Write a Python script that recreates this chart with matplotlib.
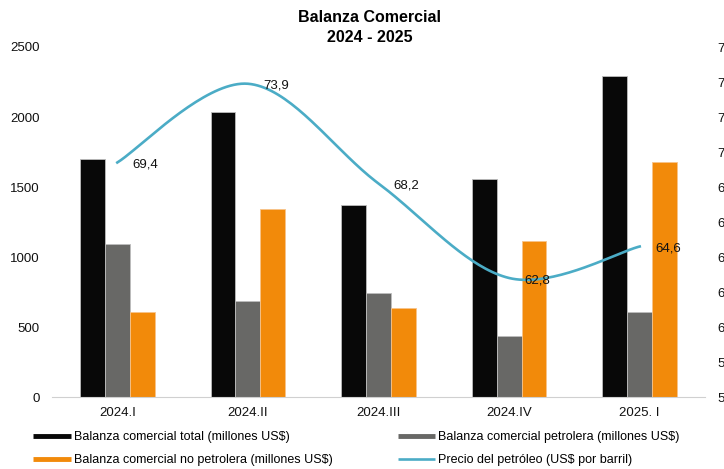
import numpy as np
import matplotlib
matplotlib.use("Agg")
import matplotlib.pyplot as plt
from matplotlib.lines import Line2D

plt.rcParams['font.family'] = ['Liberation Sans', 'DejaVu Sans']

# Datos
trimestres = ['2024.I', '2024.II', '2024.III', '2024.IV', '2025. I']
bc_total = [1702, 2033, 1374, 1557, 2293]
bc_petrolera = [1090, 686, 741, 438, 607]
bc_no_petrolera = [609, 1343, 634, 1114, 1676]
precio_petroleo = [69.4, 73.9, 68.2, 62.8, 64.6]
precio_labels = ['69,4', '73,9', '68,2', '62,8', '64,6']

c_total = '#080808'
c_petro = '#686866'
c_nopetro = '#F28A0A'
c_precio = '#4BACC6'


def smooth_curve(xs, ys, n=40):
    # curva suavizada tipo Excel (Bezier con puntos de control 1/6)
    xs = np.asarray(xs, float)
    ys = np.asarray(ys, float)
    px = np.concatenate([[xs[0]], xs, [xs[-1]]])
    py = np.concatenate([[ys[0]], ys, [ys[-1]]])
    out_x, out_y = [], []
    t = np.linspace(0, 1, n)
    for i in range(1, len(px) - 2):
        p0 = np.array([px[i], py[i]])
        p3 = np.array([px[i + 1], py[i + 1]])
        p1 = p0 + (p3 - np.array([px[i - 1], py[i - 1]])) / 6
        p2 = p3 - (np.array([px[i + 2], py[i + 2]]) - p0) / 6
        pts = ((1 - t) ** 3)[:, None] * p0 + (3 * (1 - t) ** 2 * t)[:, None] * p1 \
            + (3 * (1 - t) * t ** 2)[:, None] * p2 + (t ** 3)[:, None] * p3
        out_x.extend(pts[:, 0])
        out_y.extend(pts[:, 1])
    return np.array(out_x), np.array(out_y)


fig = plt.figure(figsize=(7.24, 4.69), dpi=100)
ax = fig.add_axes([52 / 724, 1 - 397 / 469, (705 - 52) / 724, (397 - 47) / 469])

x = np.arange(len(trimestres))
w = 0.19
ax.bar(x - w, bc_total, w, color=c_total, edgecolor='#bdbdbd', linewidth=0.6)
ax.bar(x, bc_petrolera, w, color=c_petro, edgecolor='#bdbdbd', linewidth=0.6)
ax.bar(x + w, bc_no_petrolera, w, color=c_nopetro, edgecolor='#f7c38a', linewidth=0.6)

ax.set_xlim(-0.5, len(trimestres) - 0.5)
ax.set_ylim(0, 2500)
ax.set_yticks(np.arange(0, 2501, 500))
ax.set_xticks(x)
ax.set_xticklabels(trimestres)
ax.tick_params(axis='both', length=0, labelsize=9.5, colors='#111111')
ax.tick_params(axis='y', pad=9)
ax.tick_params(axis='x', pad=7)
for s in ['top', 'right', 'left']:
    ax.spines[s].set_visible(False)
ax.spines['bottom'].set_color('#d0d0d0')

ax2 = ax.twinx()
ax2.set_ylim(56, 76)
ax2.set_yticks(np.arange(56, 77, 2))
ax2.tick_params(axis='y', length=0, labelsize=9.5, pad=9, colors='#111111')
for s in ax2.spines.values():
    s.set_visible(False)

sx, sy = smooth_curve(x, precio_petroleo)
ax2.plot(sx, sy, color=c_precio, linewidth=1.9)
for xi, yi, lab in zip(x, precio_petroleo, precio_labels):
    ax2.annotate(lab, (xi, yi), xytext=(11, -1.5), textcoords='offset points',
                 ha='left', va='center', fontsize=9.5, color='#111111')

fig.text(370 / 724, 1 - 17 / 469, 'Balanza Comercial', ha='center', va='center',
         fontsize=11.5, fontweight='bold')
fig.text(370 / 724, 1 - 37 / 469, '2024 - 2025', ha='center', va='center',
         fontsize=11.5, fontweight='bold')

handles = [
    Line2D([], [], color=c_total, linewidth=3.5, solid_capstyle='butt'),
    Line2D([], [], color=c_nopetro, linewidth=3.5, solid_capstyle='butt'),
    Line2D([], [], color=c_petro, linewidth=3.5, solid_capstyle='butt'),
    Line2D([], [], color=c_precio, linewidth=1.9, solid_capstyle='butt'),
]
labels = [
    'Balanza comercial total (millones US$)',
    'Balanza comercial no petrolera (millones US$)',
    'Balanza comercial petrolera (millones US$)',
    'Precio del petróleo (US$ por barril)',
]
fig.legend(handles, labels, ncol=2, loc='upper left', bbox_to_anchor=(22 / 724, 1 - 420 / 469),
           frameon=False, fontsize=9, handlelength=3.0, handletextpad=0.25,
           columnspacing=5.2, labelspacing=0.85)

fig.savefig('out.png', dpi=100)
